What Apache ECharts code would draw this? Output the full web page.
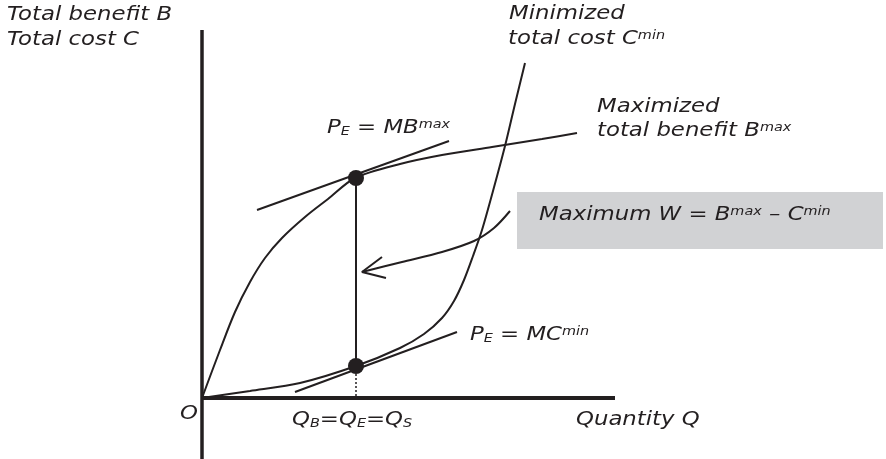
<!DOCTYPE html>
<html>
<head>
<meta charset="utf-8">
<script src="https://cdn.jsdelivr.net/npm/echarts@6.0.0/dist/echarts.min.js"></script>
<style>
  html, body { margin: 0; padding: 0; background: #fff; }
  #chart { width: 886px; height: 459px; }
</style>
</head>
<body>
<div id="chart"></div>
<script>
// values measured from the origin O (x = quantity, y = benefit / cost)
const benefitCurve = [[0, 0], [18, 48], [33, 86], [48, 116], [63, 140], [80, 160], [103, 181], [126, 199],
  [153, 220], [198, 234], [240, 243], [290, 251], [340, 259], [375, 265]];
const costCurve = [[0, 0], [48, 7], [98, 15], [154, 32], [198, 50], [222, 64], [240, 80], [252, 97],
  [262, 118], [271, 142], [280, 168], [291, 207], [303, 252], [313, 294], [323, 335]];
const mbTangent = [[55, 188], [247, 257]];
const mcTangent = [[93, 6], [255, 66]];
const equilibria = [[154, 220], [154, 32]];
const dropLine = [[154, 32], [154, 0]];
const welfareArrow = [[308, 187], [292, 170], [272, 157], [240, 146], [200, 136], [160, 126]];
const arrowHead = [[180, 141], [160, 126], [184, 120]];
const quantityAxis = [[0, 0], [413, 0]];
const valueAxis = [[0, -61], [0, 368]];

const ink = '#231f20';
const family = 'DejaVu Sans';

function line(data, extra) {
  return Object.assign({
    type: 'line',
    data: data,
    symbol: 'none',
    silent: true,
    animation: false,
    lineStyle: { color: ink, width: 2 }
  }, extra || {});
}

const small = { fontSize: 12, fontStyle: 'italic', fontFamily: family, fill: ink };
const rich = {
  sup: Object.assign({ verticalAlign: 'top' }, small),
  sub: Object.assign({ verticalAlign: 'bottom' }, small)
};

function label(x, y, text) {
  return {
    type: 'text',
    x: x,
    y: y,
    scaleX: 1.2,
    z: 100,
    style: {
      text: text,
      fontSize: 19,
      fontStyle: 'italic',
      fontFamily: family,
      fill: ink,
      verticalAlign: 'middle',
      rich: rich
    }
  };
}

const chart = echarts.init(document.getElementById('chart'));
chart.setOption({
  animation: false,
  grid: { left: 0, right: 0, top: 0, bottom: 0 },
  xAxis: { type: 'value', min: -202, max: 684, show: false },
  yAxis: { type: 'value', min: -61, max: 398, show: false },
  graphic: [
    { type: 'rect', z: 0, shape: { x: 517, y: 192, width: 366, height: 57 }, style: { fill: '#d1d2d4' } },
    label(7, 15.5, 'Total benefit B'),
    label(7, 40.5, 'Total cost C'),
    label(509, 14.5, 'Minimized'),
    label(508, 39.5, 'total cost C{sup|min}'),
    label(597, 107.5, 'Maximized'),
    label(597, 131, 'total benefit B{sup|max}'),
    label(327, 128, 'P{sub|E} = MB{sup|max}'),
    label(470, 335, 'P{sub|E} = MC{sup|min}'),
    label(539, 215.5, 'Maximum W = B{sup|max} \u2013 C{sup|min}'),
    label(180, 414, 'O'),
    label(292, 420, 'Q{sub|B}=Q{sub|E}=Q{sub|S}'),
    label(576, 420, 'Quantity Q')
  ],
  series: [
    line(valueAxis, { lineStyle: { color: ink, width: 3.5 } }),
    line(quantityAxis, { lineStyle: { color: ink, width: 4 } }),
    line(benefitCurve, { smooth: 0.3 }),
    line(costCurve, { smooth: 0.3 }),
    line(mbTangent),
    line(mcTangent),
    line(equilibria),
    line(dropLine, { lineStyle: { color: ink, width: 1.5, type: [2, 2] } }),
    line(welfareArrow, { smooth: 0.3 }),
    line(arrowHead),
    {
      type: 'scatter',
      data: equilibria,
      symbol: 'circle',
      symbolSize: 16,
      silent: true,
      itemStyle: { color: ink, opacity: 1 },
      z: 5
    }
  ]
});
</script>
</body>
</html>
